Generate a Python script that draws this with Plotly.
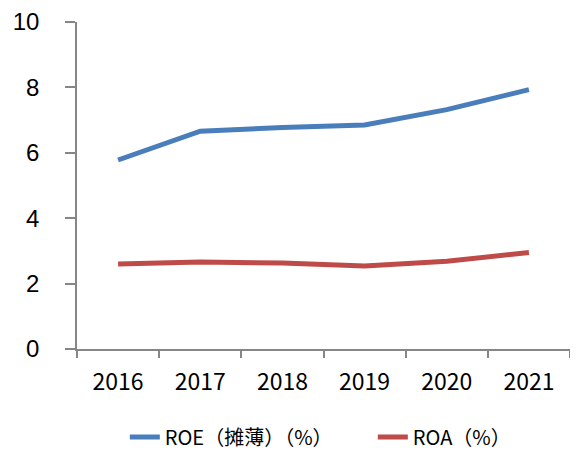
import plotly.graph_objects as go

years = ["2016", "2017", "2018", "2019", "2020", "2021"]
roe = [5.78, 6.66, 6.77, 6.85, 7.32, 7.93]
roa = [2.60, 2.66, 2.63, 2.54, 2.68, 2.95]
y_ticks = [0, 2, 4, 6, 8, 10]

cjk = "Noto Sans CJK SC"

fig = go.Figure()
fig.add_trace(go.Scatter(x=years, y=roe, mode="lines", name="ROE（摊薄）（%）",
                         line=dict(color="#4a7ebb", width=5)))
fig.add_trace(go.Scatter(x=years, y=roa, mode="lines", name="ROA（%）",
                         line=dict(color="#be4b48", width=5)))

# page body adds an 8px offset, so the figure is 8px smaller than the window
fig.update_layout(
    width=570, height=443,
    margin=dict(l=69, r=8, t=14, b=102, autoexpand=False),
    paper_bgcolor="white", plot_bgcolor="white",
    showlegend=True,
    legend=dict(orientation="h", x=0.097, xanchor="left", y=-0.269, yanchor="middle",
                font=dict(family=cjk, size=20, color="#000000"),
                itemwidth=30, tracegroupgap=0, entrywidth=203),
)
fig.update_xaxes(
    type="category", range=[-0.5, 5.5],
    showline=True, linecolor="#868686", linewidth=1.5,
    ticks="outside", ticklen=7, tickcolor="#868686", tickwidth=1.5,
    tickson="boundaries", showgrid=False, zeroline=False,
    tickfont=dict(family=cjk, size=23, color="#000000"),
    ticklabelstandoff=12, automargin=False,
)
fig.update_yaxes(
    range=[0, 10], tickvals=y_ticks,
    showline=True, linecolor="#868686", linewidth=1.5,
    ticks="outside", ticklen=10, tickcolor="#868686", tickwidth=1.5,
    showgrid=False, zeroline=False,
    tickfont=dict(family="Liberation Sans", size=24, color="#000000"),
    ticklabelstandoff=21, automargin=False, ticklabeloverflow="allow",
)

fig.write_html("out.html")
